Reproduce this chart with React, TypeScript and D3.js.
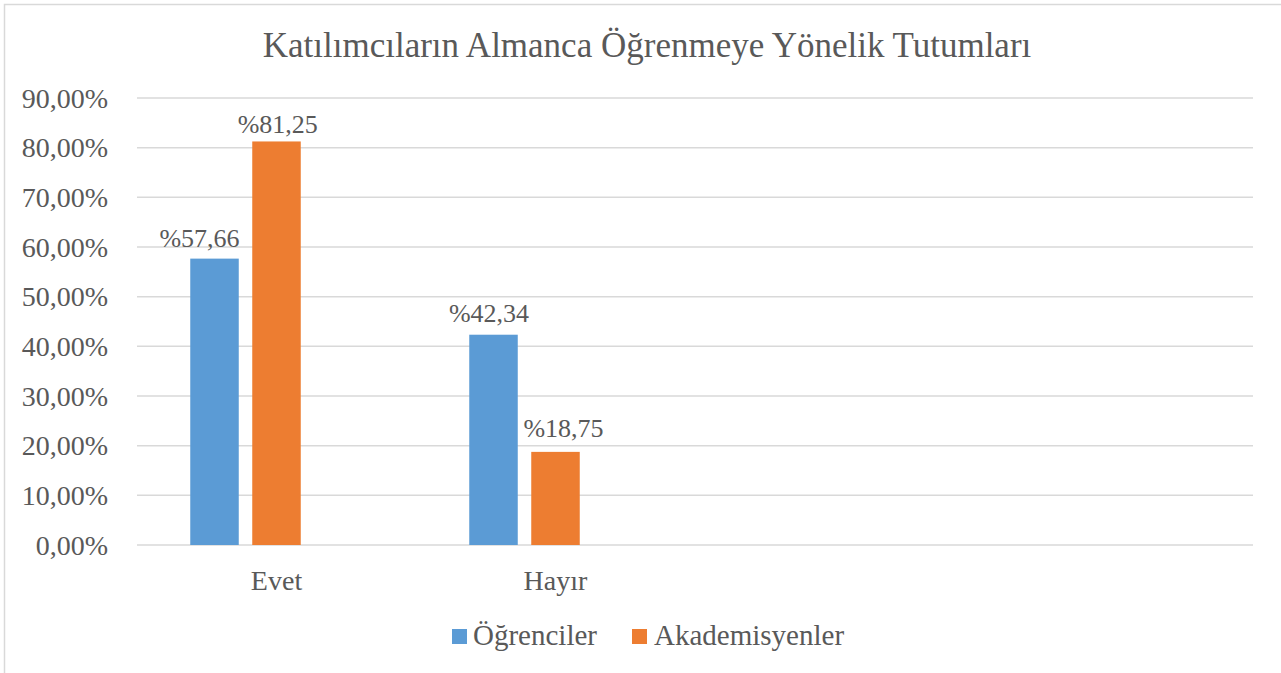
import React from "react";
import * as d3 from "d3";

const title = "Katılımcıların Almanca Öğrenmeye Yönelik Tutumları";
const categories = ["Evet", "Hayır", "", " "];
const seriesNames = ["Öğrenciler", "Akademisyenler", "_empty"];
const ogrenciler = [57.66, 42.34];
const akademisyenler = [81.25, 18.75];
const yTicks = [0, 10, 20, 30, 40, 50, 60, 70, 80, 90];
const colors = ["#5B9BD5", "#ED7D31"];

// manual label nudges (dx, dy) per series / category, as in the reference
const labelNudge = [
  [[-15, -12], [-4.5, -13]],
  [[1.3, -8], [8, -15]],
];

const W = 1281;
const H = 673;
const left = 137;
const right = 1253;
const top = 98;
const bottom = 545;
const textColor = "#595959";
const fontStyle = { fontFamily: '"Liberation Serif", Tinos, "Times New Roman", Times, "DejaVu Serif", serif' };

const fmtTick = (v: number) => v.toFixed(2).replace(".", ",") + "%";
const fmtLabel = (v: number) => "%" + v.toFixed(2).replace(".", ",");

export default function App() {
  const x = d3.scaleBand<string>().domain(categories).range([left, right]).padding(0);
  const inner = d3
    .scaleBand<string>()
    .domain(seriesNames)
    .range([0, x.bandwidth()])
    .paddingInner(0.2177)
    .paddingOuter(0.859);
  const y = d3.scaleLinear().domain([0, 90]).range([bottom, top]);

  const series = [ogrenciler, akademisyenler];

  return (
    <svg
      width={W}
      height={H}
      style={{ position: "absolute", left: 0, top: 0, background: "#fff", ...fontStyle }}
    >
      <rect x={4.5} y={4.5} width={1300} height={700} fill="#fff" stroke="#d9d9d9" strokeWidth={1.5} />
      <text x={647} y={57} textAnchor="middle" fontSize={35} fill={textColor} style={fontStyle}>
        {title}
      </text>
      {yTicks.map((t) => (
        <g key={t}>
          <line x1={left} x2={right} y1={y(t)} y2={y(t)} stroke="#d9d9d9" strokeWidth={1.5} />
          <text x={108} y={y(t) + 9.5} textAnchor="end" fontSize={28} fill={textColor} style={fontStyle}>
            {fmtTick(t)}
          </text>
        </g>
      ))}
      {series.map((vals, si) =>
        vals.map((v, ci) => {
          const bx = (x(categories[ci]) as number) + (inner(seriesNames[si]) as number);
          const bw = inner.bandwidth();
          const [dx, dy] = labelNudge[si][ci];
          return (
            <g key={si + "-" + ci}>
              <rect x={bx} y={y(v)} width={bw} height={bottom - y(v)} fill={colors[si]} />
              <text
                x={bx + bw / 2 + dx}
                y={y(v) + dy}
                textAnchor="middle"
                fontSize={26}
                fill={textColor}
                style={fontStyle}
              >
                {fmtLabel(v)}
              </text>
            </g>
          );
        })
      )}
      {categories.map((c) => (
        <text
          key={c}
          x={(x(c) as number) + x.bandwidth() / 2}
          y={590}
          textAnchor="middle"
          fontSize={28}
          fill={textColor}
          style={fontStyle}
        >
          {c.trim()}
        </text>
      ))}
      <g>
        <rect x={452} y={629} width={15} height={15} fill={colors[0]} />
        <text x={473} y={645} fontSize={29} fill={textColor} style={fontStyle}>
          {seriesNames[0]}
        </text>
        <rect x={632} y={629} width={15} height={15} fill={colors[1]} />
        <text x={654} y={645} fontSize={29} fill={textColor} style={fontStyle}>
          {seriesNames[1]}
        </text>
      </g>
    </svg>
  );
}
